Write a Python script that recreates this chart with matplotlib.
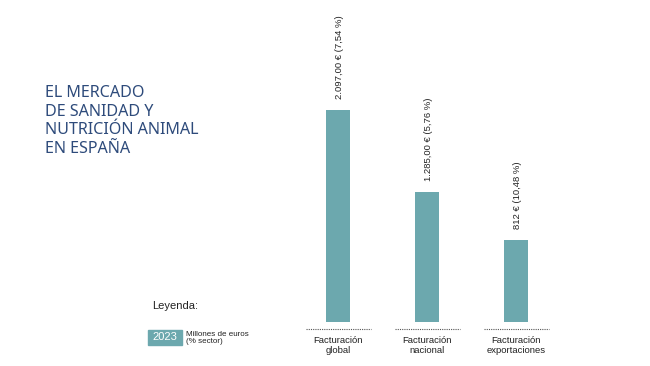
import matplotlib
matplotlib.use("Agg")
import matplotlib.pyplot as plt
from matplotlib.patches import Rectangle

categories = ["Facturación\nglobal", "Facturación\nnacional", "Facturación\nexportaciones"]
values = [2097.00, 1285.00, 812.00]
value_labels = ["2.097,00 €", "1.285,00 €", "812 €"]
share_labels = ["(7,54 %)", "(5,76 %)", "(10,48 %)"]
legend_year = "2023"
legend_text = "Millones de euros\n(% sector)"
title = "EL MERCADO\nDE SANIDAD Y\nNUTRICIÓN ANIMAL\nEN ESPAÑA"

bar_color = "#6ca8ae"
navy = "#2e4b7b"
dark = "#222222"

plt.rcParams['font.family'] = ['Liberation Sans', 'DejaVu Sans']

fig = plt.figure(figsize=(6.5, 3.66), dpi=100)
# axes placed so bars land where the reference has them
ax = fig.add_axes([284.6 / 650, 44 / 366, 284.8 / 650, 322 / 366])
x = list(range(len(values)))
ax.bar(x, values, width=0.28, color=bar_color)
ax.set_xlim(-0.6, 2.6)
ax.set_ylim(0, 2097 * 322 / 212)

for xi, v, vl, sl in zip(x, values, value_labels, share_labels):
    ax.annotate(vl + " " + sl, (xi, v), xytext=(1, 8), textcoords="offset points",
                rotation=90, ha="center", va="bottom", fontsize=6.8, color=dark)

# dotted baselines under each bar
for xi in x:
    ax.plot([xi - 0.36, xi + 0.37], [-0.022, -0.022], transform=ax.get_xaxis_transform(),
            linestyle=(0, (1, 1)), color="#555555", linewidth=0.8, clip_on=False)

ax.set_xticks(x)
ax.set_xticklabels(categories, fontsize=6.8, color=dark, linespacing=1.2)
ax.tick_params(axis="x", length=0, pad=10)
ax.set_yticks([])
for s in ax.spines.values():
    s.set_visible(False)

fig.text(45 / 650, 1 - 85 / 366, title, fontsize=11.6, color=navy, family=['Noto Sans', 'DejaVu Sans'],
         va="top", ha="left", linespacing=1.22)

fig.text(152 / 650, 1 - 306 / 366, "Leyenda:", fontsize=8, color=dark, va="center", ha="left")
fig.patches.append(Rectangle((148 / 650, 1 - 345 / 366), 34 / 650, 15 / 366,
                             transform=fig.transFigure, color=bar_color))
fig.text(165 / 650, 1 - 337.5 / 366, legend_year, fontsize=8, color="white", va="center", ha="center")
fig.text(186 / 650, 1 - 338 / 366, legend_text, fontsize=5.8, color=dark, va="center", ha="left",
         linespacing=1.1)

fig.savefig("out.png", dpi=100)
